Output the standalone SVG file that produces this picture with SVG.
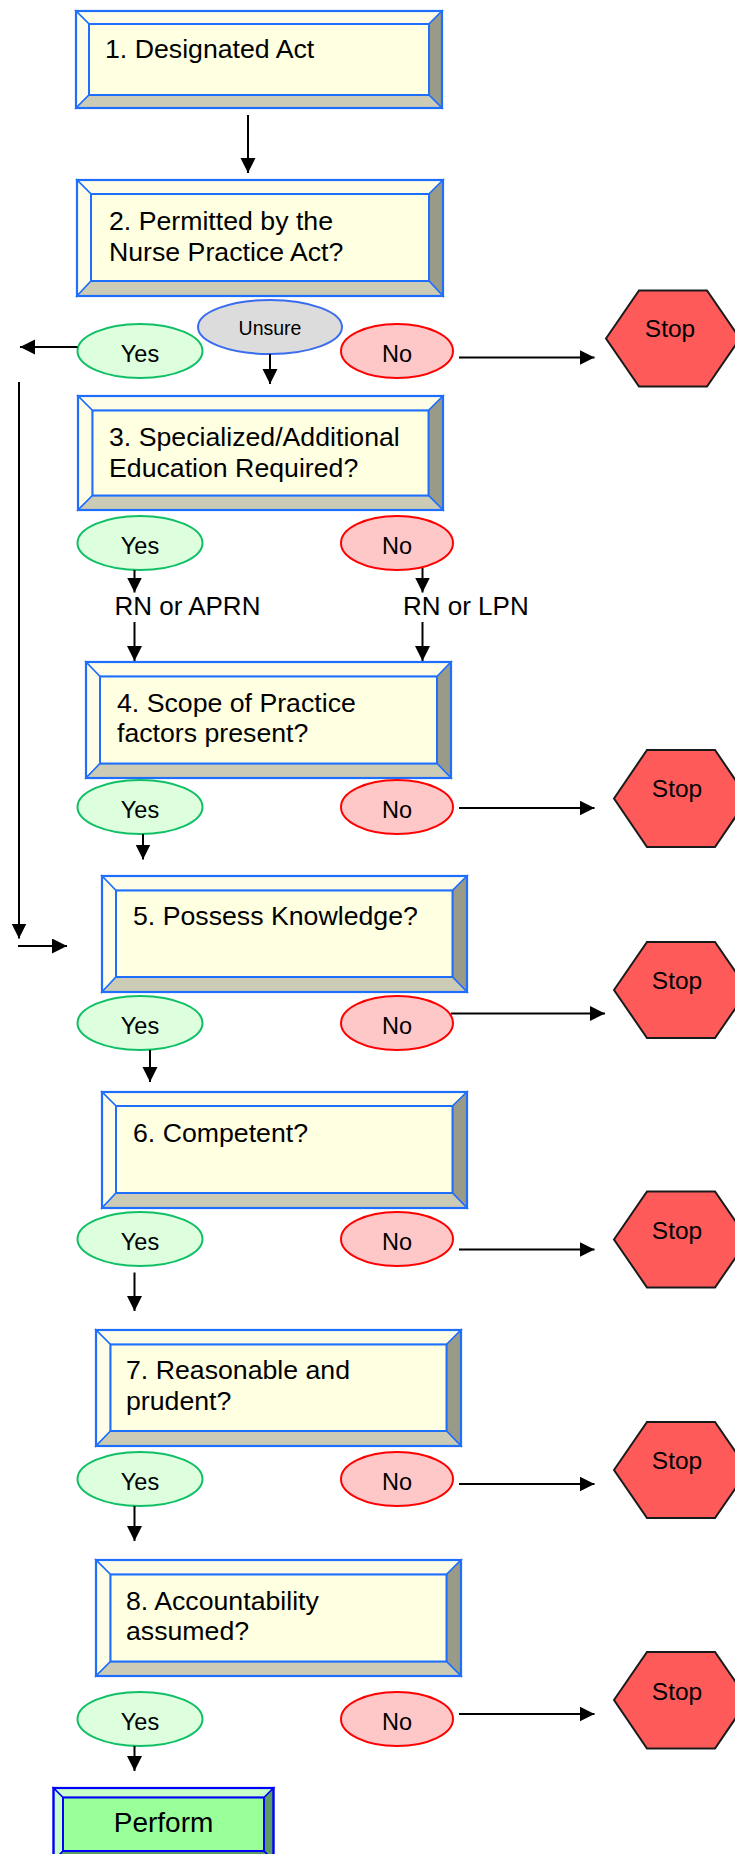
<svg xmlns="http://www.w3.org/2000/svg" width="735" height="1854" viewBox="0 0 735 1854">
<style>
text{font-family:"Liberation Sans",Arial,sans-serif;fill:#000}
.bt{font-size:26.7px}
.et{font-size:23.5px;text-anchor:middle}
.ut{font-size:19.5px;text-anchor:middle}
.st{font-size:24.5px;text-anchor:middle}
.pt{font-size:28px;text-anchor:middle}
.lt{font-size:26px}
.lite{fill:#fefee8;stroke:#1f6fff;stroke-width:1.5}
.dark{fill:#9a9a88;stroke:#1f6fff;stroke-width:1.5}
.khaki{fill:#cccbb5;stroke:#1f6fff;stroke-width:1.5}
.face{fill:#ffffe2;stroke:#1f6fff;stroke-width:2}
.outer{fill:none;stroke:#1f6fff;stroke-width:2.2}
.glite{fill:#c8ffc8;stroke:#0000ff;stroke-width:1.5}
.gdark{fill:#5c9c62;stroke:#0000ff;stroke-width:1.5}
.gface{fill:#99ff99;stroke:#0000ff;stroke-width:2}
.gouter{fill:none;stroke:#0000ff;stroke-width:2.2}
.yes{fill:#ddffdd;stroke:#11c066;stroke-width:2}
.no{fill:#ffc8c8;stroke:#ff0000;stroke-width:2}
.uns{fill:#dcdcdc;stroke:#3a6cf0;stroke-width:2}
.stop{fill:#ff5a5a;stroke:#1a1a1a;stroke-width:2}
.c{stroke:#000;stroke-width:2;fill:none;marker-end:url(#ah)}
.cl{stroke:#000;stroke-width:2;fill:none}
</style>
<defs>
<marker id="ah" markerUnits="userSpaceOnUse" markerWidth="16" markerHeight="16" refX="15" refY="7.5" orient="auto">
<path d="M0,0 L15,7.5 L0,15 z" fill="#000"/>
</marker>
</defs>

<g id="node1">
<polygon class="lite" points="76,11 442,11 429,24 89,24"/>
<polygon class="lite" points="76,11 89,24 89,95 76,108"/>
<polygon class="dark" points="442,11 442,108 429,95 429,24"/>
<polygon class="khaki" points="76,108 442,108 429,95 89,95"/>
<rect class="face" x="89" y="24" width="340" height="71"/>
<rect class="outer" x="76" y="11" width="366" height="97"/>
<text class="bt" x="105" y="58">1. Designated Act</text>
</g>

<g id="node2">
<polygon class="lite" points="77,180 443,180 429,194 91,194"/>
<polygon class="lite" points="77,180 91,194 91,281 77,296"/>
<polygon class="dark" points="443,180 443,296 429,281 429,194"/>
<polygon class="khaki" points="77,296 443,296 429,281 91,281"/>
<rect class="face" x="91" y="194" width="338" height="87"/>
<rect class="outer" x="77" y="180" width="366" height="116"/>
<text class="bt" x="109" y="230">2. Permitted by the</text>
<text class="bt" x="109" y="261">Nurse Practice Act?</text>
</g>

<g id="yes2"><ellipse class="yes" cx="140" cy="351" rx="62.5" ry="27"/><text class="et" x="140" y="361.5">Yes</text></g>
<g id="unsure2"><ellipse class="uns" cx="270" cy="327" rx="72" ry="27"/><text class="ut" x="270" y="335">Unsure</text></g>
<g id="no2"><ellipse class="no" cx="397" cy="351" rx="56" ry="27"/><text class="et" x="397" y="361.5">No</text></g>
<g id="stop1"><polygon class="stop" points="606,338.5 639,290.5 707,290.5 740,338.5 707,386.5 639,386.5"/><text class="st" x="670" y="337">Stop</text></g>

<g id="node3">
<polygon class="lite" points="78,396 443,396 428.5,410.5 92.5,410.5"/>
<polygon class="lite" points="78,396 92.5,410.5 92.5,495.5 78,510"/>
<polygon class="dark" points="443,396 443,510 428.5,495.5 428.5,410.5"/>
<polygon class="khaki" points="78,510 443,510 428.5,495.5 92.5,495.5"/>
<rect class="face" x="92.5" y="410.5" width="336" height="85"/>
<rect class="outer" x="78" y="396" width="365" height="114"/>
<text class="bt" x="109" y="446">3. Specialized/Additional</text>
<text class="bt" x="109" y="477">Education Required?</text>
</g>

<g id="yes3"><ellipse class="yes" cx="140" cy="543" rx="62.5" ry="27"/><text class="et" x="140" y="553.5">Yes</text></g>
<g id="no3"><ellipse class="no" cx="397" cy="543" rx="56" ry="27"/><text class="et" x="397" y="553.5">No</text></g>
<g id="rnaprn"><text class="lt" x="114.5" y="614.5">RN or APRN</text></g>
<g id="rnlpn"><text class="lt" x="403" y="614.5">RN or LPN</text></g>

<g id="node4">
<polygon class="lite" points="86,662 451,662 437,676.5 100,676.5"/>
<polygon class="lite" points="86,662 100,676.5 100,763.5 86,778"/>
<polygon class="dark" points="451,662 451,778 437,763.5 437,676.5"/>
<polygon class="khaki" points="86,778 451,778 437,763.5 100,763.5"/>
<rect class="face" x="100" y="676.5" width="337" height="87"/>
<rect class="outer" x="86" y="662" width="365" height="116"/>
<text class="bt" x="117" y="712">4. Scope of Practice</text>
<text class="bt" x="117" y="742">factors present?</text>
</g>

<g id="yes4"><ellipse class="yes" cx="140" cy="807" rx="62.5" ry="27"/><text class="et" x="140" y="817.5">Yes</text></g>
<g id="no4"><ellipse class="no" cx="397" cy="807" rx="56" ry="27"/><text class="et" x="397" y="817.5">No</text></g>
<g id="stop2"><polygon class="stop" points="614,798.5 647,750 715,750 748,798.5 715,847 647,847"/><text class="st" x="677" y="797">Stop</text></g>

<g id="node5">
<polygon class="lite" points="102,876 467,876 452.5,890.5 116,890.5"/>
<polygon class="lite" points="102,876 116,890.5 116,977 102,992"/>
<polygon class="dark" points="467,876 467,992 452.5,977 452.5,890.5"/>
<polygon class="khaki" points="102,992 467,992 452.5,977 116,977"/>
<rect class="face" x="116" y="890.5" width="336.5" height="86.5"/>
<rect class="outer" x="102" y="876" width="365" height="116"/>
<text class="bt" x="133" y="925">5. Possess Knowledge?</text>
</g>

<g id="stop3"><polygon class="stop" points="614,990 647,942 715,942 748,990 715,1038 647,1038"/><text class="st" x="677" y="988.5">Stop</text></g>
<g id="yes5"><ellipse class="yes" cx="140" cy="1023" rx="62.5" ry="27"/><text class="et" x="140" y="1033.5">Yes</text></g>
<g id="no5"><ellipse class="no" cx="397" cy="1023" rx="56" ry="27"/><text class="et" x="397" y="1033.5">No</text></g>

<g id="node6">
<polygon class="lite" points="102,1092 467,1092 452.5,1106 116,1106"/>
<polygon class="lite" points="102,1092 116,1106 116,1193 102,1208"/>
<polygon class="dark" points="467,1092 467,1208 452.5,1193 452.5,1106"/>
<polygon class="khaki" points="102,1208 467,1208 452.5,1193 116,1193"/>
<rect class="face" x="116" y="1106" width="336.5" height="87"/>
<rect class="outer" x="102" y="1092" width="365" height="116"/>
<text class="bt" x="133" y="1142">6. Competent?</text>
</g>

<g id="yes6"><ellipse class="yes" cx="140" cy="1239" rx="62.5" ry="27"/><text class="et" x="140" y="1249.5">Yes</text></g>
<g id="no6"><ellipse class="no" cx="397" cy="1239" rx="56" ry="27"/><text class="et" x="397" y="1249.5">No</text></g>
<g id="stop4"><polygon class="stop" points="614,1239.5 647,1191.5 715,1191.5 748,1239.5 715,1287.5 647,1287.5"/><text class="st" x="677" y="1238.5">Stop</text></g>

<g id="node7">
<polygon class="lite" points="96,1330 461,1330 446.5,1344.5 110.5,1344.5"/>
<polygon class="lite" points="96,1330 110.5,1344.5 110.5,1431 96,1446"/>
<polygon class="dark" points="461,1330 461,1446 446.5,1431 446.5,1344.5"/>
<polygon class="khaki" points="96,1446 461,1446 446.5,1431 110.5,1431"/>
<rect class="face" x="110.5" y="1344.5" width="336" height="86.5"/>
<rect class="outer" x="96" y="1330" width="365" height="116"/>
<text class="bt" x="126" y="1379">7. Reasonable and</text>
<text class="bt" x="126" y="1409.5">prudent?</text>
</g>

<g id="yes7"><ellipse class="yes" cx="140" cy="1479" rx="62.5" ry="27"/><text class="et" x="140" y="1489.5">Yes</text></g>
<g id="no7"><ellipse class="no" cx="397" cy="1479" rx="56" ry="27"/><text class="et" x="397" y="1489.5">No</text></g>
<g id="stop5"><polygon class="stop" points="614,1470 647,1422 715,1422 748,1470 715,1518 647,1518"/><text class="st" x="677" y="1469">Stop</text></g>

<g id="node8">
<polygon class="lite" points="96,1560 461,1560 446.5,1574.5 110.5,1574.5"/>
<polygon class="lite" points="96,1560 110.5,1574.5 110.5,1661.5 96,1676"/>
<polygon class="dark" points="461,1560 461,1676 446.5,1661.5 446.5,1574.5"/>
<polygon class="khaki" points="96,1676 461,1676 446.5,1661.5 110.5,1661.5"/>
<rect class="face" x="110.5" y="1574.5" width="336" height="87"/>
<rect class="outer" x="96" y="1560" width="365" height="116"/>
<text class="bt" x="126" y="1610">8. Accountability</text>
<text class="bt" x="126" y="1640">assumed?</text>
</g>

<g id="yes8"><ellipse class="yes" cx="140" cy="1719" rx="62.5" ry="27"/><text class="et" x="140" y="1729.5">Yes</text></g>
<g id="no8"><ellipse class="no" cx="397" cy="1719" rx="56" ry="27"/><text class="et" x="397" y="1729.5">No</text></g>
<g id="stop6"><polygon class="stop" points="614,1700 647,1652 715,1652 748,1700 715,1748.5 647,1748.5"/><text class="st" x="677" y="1700">Stop</text></g>

<g id="perform">
<polygon class="glite" points="53.5,1788 273.5,1788 264,1797.5 63,1797.5"/>
<polygon class="glite" points="53.5,1788 63,1797.5 63,1851 53.5,1861"/>
<polygon class="gdark" points="273.5,1788 273.5,1861 264,1851 264,1797.5"/>
<polygon class="gdark" points="53.5,1861 273.5,1861 264,1851 63,1851"/>
<rect class="gface" x="63" y="1797.5" width="201" height="53.5"/>
<rect class="gouter" x="53.5" y="1788" width="220" height="73"/>
<text class="pt" x="163.5" y="1832">Perform</text>
</g>

<g id="connectors">
<line class="c" x1="248" y1="115" x2="248" y2="173"/>
<line class="c" x1="77.5" y1="347" x2="20" y2="347"/>
<line class="c" x1="270" y1="354" x2="270" y2="384"/>
<line class="c" x1="459" y1="357.5" x2="594.5" y2="357.5"/>
<line class="c" x1="19" y1="382" x2="19" y2="938.5"/>
<line class="c" x1="18" y1="946" x2="67" y2="946"/>
<line class="c" x1="134.5" y1="570" x2="134.5" y2="592.5"/>
<line class="c" x1="134.5" y1="622" x2="134.5" y2="661"/>
<line class="c" x1="422.5" y1="568" x2="422.5" y2="592.5"/>
<line class="c" x1="422.5" y1="622" x2="422.5" y2="661"/>
<line class="c" x1="459" y1="808" x2="594.5" y2="808"/>
<line class="c" x1="143" y1="834" x2="143" y2="859.5"/>
<line class="c" x1="451" y1="1013.5" x2="605" y2="1013.5"/>
<line class="c" x1="150" y1="1050" x2="150" y2="1082"/>
<line class="c" x1="459" y1="1249.5" x2="594.5" y2="1249.5"/>
<line class="c" x1="134.5" y1="1272.5" x2="134.5" y2="1311"/>
<line class="c" x1="459" y1="1484" x2="594.5" y2="1484"/>
<line class="c" x1="134.5" y1="1506" x2="134.5" y2="1541"/>
<line class="c" x1="459" y1="1714" x2="594.5" y2="1714"/>
<line class="c" x1="134.5" y1="1746" x2="134.5" y2="1771"/>
</g>
</svg>
